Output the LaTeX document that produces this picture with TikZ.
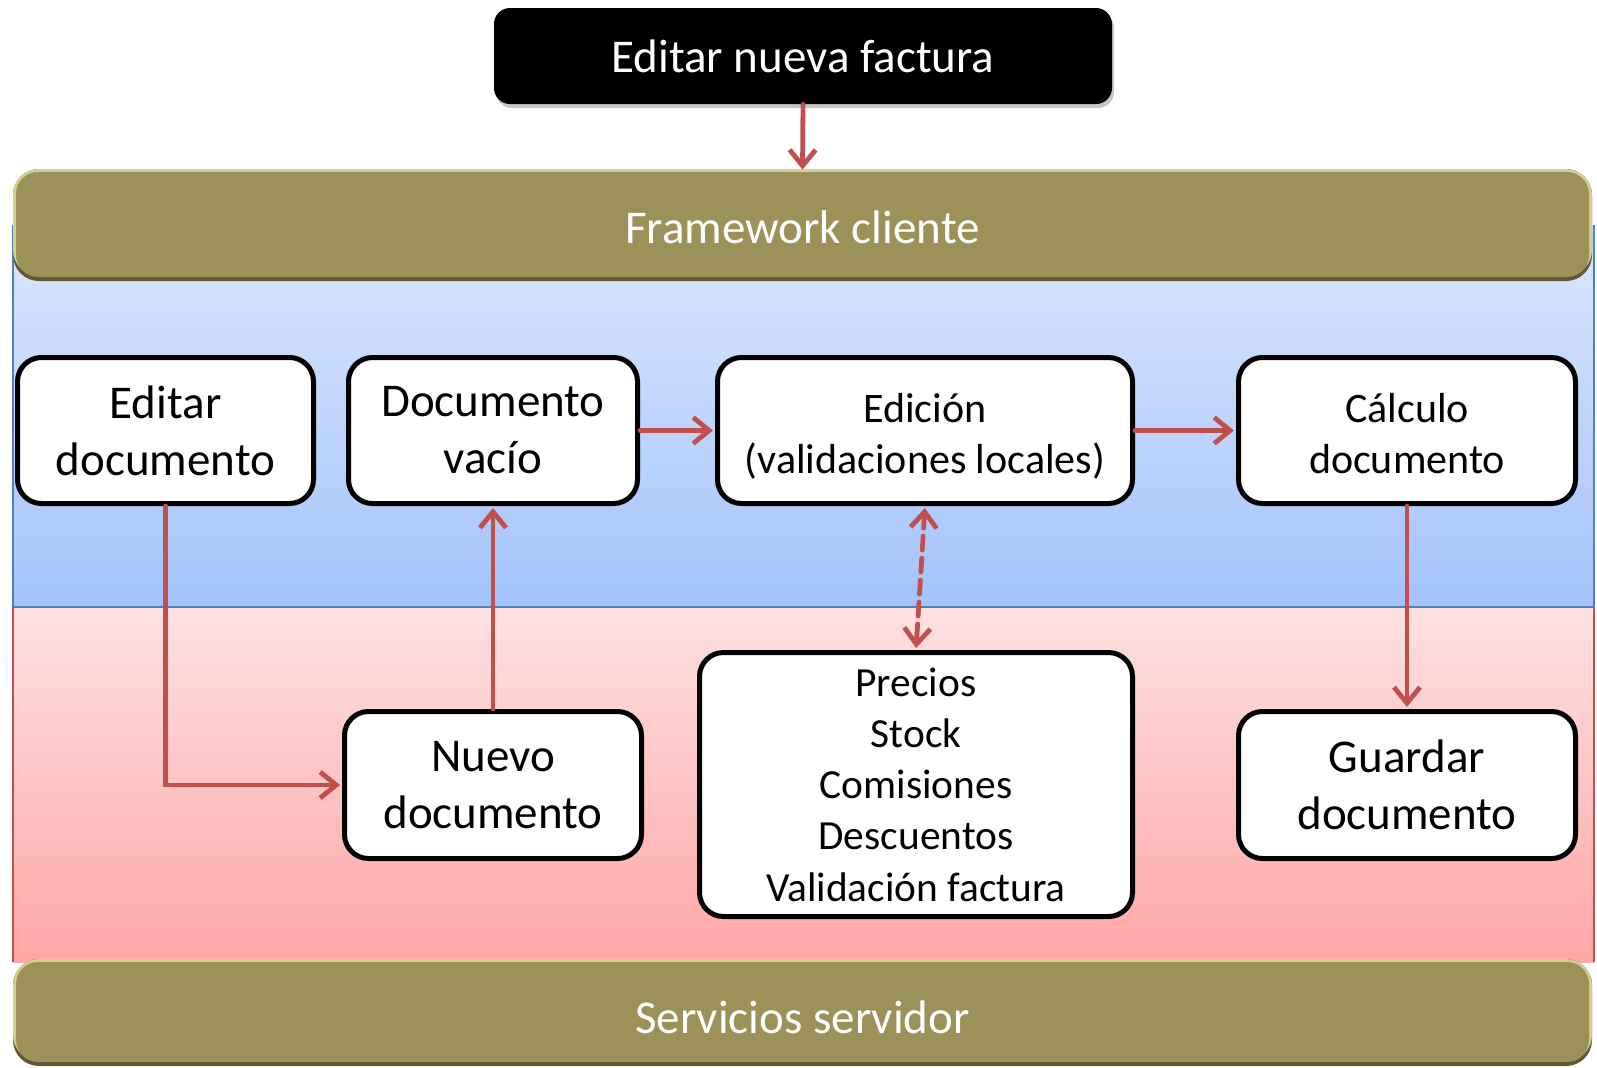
\documentclass[tikz,border=0pt]{standalone}
\usepackage{fontspec}
\setmainfont{Carlito}
\usetikzlibrary{arrows.meta,shadows}
\definecolor{arrowred}{RGB}{192,80,77}
\definecolor{blueTop}{RGB}{220,231,253}
\definecolor{blueBot}{RGB}{163,195,250}
\definecolor{pinkTop}{RGB}{253,225,225}
\definecolor{pinkBot}{RGB}{255,166,166}
\definecolor{barOlive}{RGB}{157,145,90}
\definecolor{barLight}{RGB}{214,205,145}
\definecolor{barDark}{RGB}{95,88,50}
\definecolor{blueBorder}{RGB}{79,129,189}
\begin{document}
\begin{tikzpicture}[x=0.5pt,y=-0.5pt,
  box/.style={draw=black, line width=2.5pt, rounded corners=12pt, fill=white, align=center, inner sep=0pt},
  big/.style={font=\fontsize{23.5}{28.5}\selectfont},
  mid/.style={font=\fontsize{21}{25.5}\selectfont},
  small/.style={font=\fontsize{20.7}{25.6}\selectfont},
  conn/.style={draw=arrowred, line width=2.4pt, line cap=round, shorten >=1pt, -{Straight Barb[length=8pt,width=13pt]}},
  bar/.style={fill=barOlive, rounded corners=11pt, minimum width=786.5pt, inner sep=0pt, text=white, font=\fontsize{23.5}{28}\selectfont},
  titlebox/.style={fill=black, rounded corners=8pt, minimum width=309pt, minimum height=48pt, inner sep=0pt, text=white,
     font=\fontsize{23.5}{28}\selectfont, drop shadow={opacity=0.45, shadow xshift=1pt, shadow yshift=-2pt}},
]
\useasboundingbox (0,0) rectangle (1597,1067);
% regions
\shade[top color=pinkTop, bottom color=pinkBot] (13,607) rectangle (1594,962);
\draw[arrowred, line width=0.8pt] (13,607) -- (13,962) (1594,607) -- (1594,962);
\shade[top color=blueTop, bottom color=blueBot] (13,225) rectangle (1594,607);
\draw[blueBorder, line width=1.2pt] (13,225) -- (13,607) -- (1594,607) -- (1594,225);
% bars
\fill[barDark, rounded corners=13pt] (13,169) rectangle (1592,281);
\fill[barLight, rounded corners=13pt] (13,169) rectangle (1592,276);
\node[bar, minimum height=52.5pt] (fw) at (802.5,224.5) {\rule{0pt}{19.6pt}Framework cliente};
\fill[barDark, rounded corners=13pt] (13,959) rectangle (1592,1066);
\fill[barLight, rounded corners=13pt] (13,959) rectangle (1592,1061);
\node[bar, minimum height=50pt] (srv) at (802.5,1012) {\rule{0pt}{21.6pt}Servicios servidor};
% title
\node[titlebox] (title) at (803,56) {Editar nueva factura};
% boxes
\node[box,big,minimum width=148pt,minimum height=73pt] (edit) at (165.5,430.5) {Editar\\documento};
\node[box,big,minimum width=144.5pt,minimum height=73pt] (vacio) at (493,430.5) {Documento\\vacío};
\node[box,mid,minimum width=207.5pt,minimum height=73pt] (edicion) at (925,430.5) {\rule{0pt}{20.5pt}Edición\\(validaciones locales)};
\node[box,mid,minimum width=168.5pt,minimum height=73pt] (calculo) at (1407,430.5) {\rule{0pt}{17.5pt}Cálculo\\documento};
\node[box,big,minimum width=148.5pt,minimum height=73.5pt] (nuevo) at (493,785) {Nuevo\\documento};
\node[box,small,minimum width=216.5pt,minimum height=132pt] (precios) at (916,784.5) {Precios\\Stock\\Comisiones\\Descuentos\\Validación factura};
\node[box,big,minimum width=168.5pt,minimum height=73.5pt] (guardar) at (1407,785) {Guardar\\documento};
% connectors
\draw[conn] (title.south) -- (fw.north);
\draw[conn] (edit.south) |- (nuevo.west);
\draw[conn] (nuevo.north) -- (vacio.south);
\draw[conn] (vacio.east) -- (edicion.west);
\draw[conn] (edicion.east) -- (calculo.west);
\draw[conn] (calculo.south) -- (guardar.north);
\draw[conn, shorten <=1pt, dash pattern=on 7pt off 4pt, {Straight Barb[length=8pt,width=13pt]}-{Straight Barb[length=8pt,width=13pt]}] (edicion.south) -- (precios.north);
\end{tikzpicture}
\end{document}
